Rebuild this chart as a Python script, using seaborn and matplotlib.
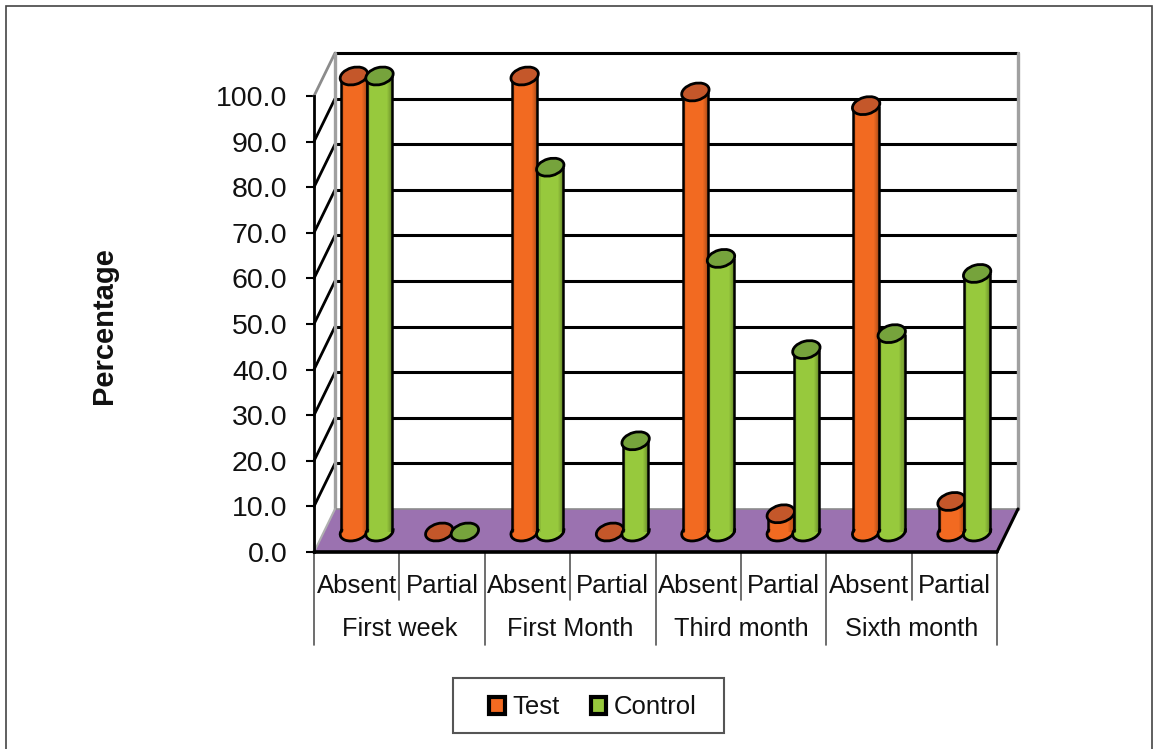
import matplotlib
matplotlib.use("Agg")
import matplotlib.pyplot as plt
import pandas as pd
import seaborn as sns
from matplotlib.patches import Arc, Ellipse, Patch, Polygon, Rectangle
from matplotlib.transforms import Affine2D, IdentityTransform

periods = ["First week", "First Month", "Third month", "Sixth month"]
statuses = ["Absent", "Partial"]
series_names = ["Test", "Control"]
test_values = [100.0, 0.0, 100.0, 0.0, 96.5, 4.0, 93.5, 6.7]
control_values = [100.0, 0.0, 80.0, 20.0, 60.0, 40.0, 43.5, 56.7]
y_ticks = [0, 10, 20, 30, 40, 50, 60, 70, 80, 90, 100]

W, H = 1157, 749
TEST_COL = "#F26A21"
CONTROL_COL = "#97C93D"
TEST_TOP = "#C4572A"
CONTROL_TOP = "#76A33C"
FLOOR = "#9B72B0"

sns.set_theme(style="white")
plt.rcParams["font.family"] = ["Liberation Sans", "DejaVu Sans"]

# 表格：每个类别一行，再按组别展开
slots = [f"{p}|{s}" for p in periods for s in statuses]
df = pd.DataFrame({
    "slot": slots * 2,
    "group": ["Test"] * 8 + ["Control"] * 8,
    "value": test_values + control_values,
})

fig = plt.figure(figsize=(W / 100, H / 100), dpi=100)
fig.patch.set_facecolor("white")
ax = fig.add_axes([314 / W, 1 - 552 / H, 683 / W, 456 / H])
ax.patch.set_alpha(0)

sns.barplot(data=df, x="slot", y="value", hue="group", hue_order=series_names,
            palette=[TEST_COL, CONTROL_COL], width=0.6, gap=0, saturation=1,
            legend=False, ax=ax)
ax.set_xlim(-0.5, 7.5)
ax.set_ylim(0, 100)
ax.set_xlabel("")
ax.set_ylabel("")

# 透视偏移（像素），后墙和柱子的位置
unit_x = 683 / 8
unit_y = 456 / 100
dx, dy = 21 / unit_x, 43 / unit_y
SHIFT_X, SHIFT_Y = 10, 20
shift = Affine2D().translate(SHIFT_X, SHIFT_Y)

# 后墙、左墙和地面
for v in y_ticks[1:]:
    diag = "#8c8c8c" if v == 100 else "black"
    ax.plot([-0.5, -0.5 + dx], [v, v + dy], color=diag, lw=2, clip_on=False, zorder=1)
    ax.plot([-0.5 + dx, 7.5 + dx], [v + dy, v + dy], color="black", lw=2.2, clip_on=False, zorder=1)
ax.plot([-0.5 + dx, -0.5 + dx], [dy, 100 + dy], color="#a0a0a0", lw=2.4, clip_on=False, zorder=1.1)
ax.plot([7.5 + dx, 7.5 + dx], [dy, 100 + dy], color="#a0a0a0", lw=2.4, clip_on=False, zorder=1.1)
ax.add_patch(Polygon([(-0.5, 0), (7.5, 0), (7.5 + dx, dy), (-0.5 + dx, dy)],
                     facecolor=FLOOR, edgecolor="none", clip_on=False, zorder=2))
ax.plot([-0.5 + dx, 7.5 + dx], [dy, dy], color="#8c8c8c", lw=1.2, clip_on=False, zorder=2.1)
ax.plot([-0.5, -0.5 + dx], [0, dy], color="#b0b0b0", lw=1.5, clip_on=False, zorder=2.1)
ax.plot([7.5, 7.5 + dx], [0, dy], color="black", lw=2.2, clip_on=False, zorder=2.1)
ax.plot([-0.5, 7.5], [0, 0], color="black", lw=2.6, clip_on=False, zorder=2.2)

# 把柱子改成圆柱：侧面 + 底部半椭圆 + 顶部椭圆
ELL_W, ELL_H, ELL_ANG = 28, 17, 15
identity = IdentityTransform()
for k, (bars, col, top) in enumerate(zip(ax.containers, [TEST_COL, CONTROL_COL], [TEST_TOP, CONTROL_TOP])):
    for i, bar in enumerate(bars):
        z = 3 + i + k * 0.5
        bar.set_transform(ax.transData + shift)
        bar.set_clip_on(False)
        bar.set_zorder(z)
        bar.set_edgecolor("none")
        h = bar.get_height()
        x0, w = bar.get_x(), bar.get_width()
        cx = x0 + w / 2
        bx, by = ax.transData.transform((cx, 0)) + (SHIFT_X, SHIFT_Y)
        tx, ty = ax.transData.transform((cx, h)) + (SHIFT_X, SHIFT_Y)
        if h > 0:
            # 底部
            ax.add_patch(Ellipse((bx, by), ELL_W, ELL_H, angle=ELL_ANG, facecolor=col, edgecolor="none",
                                 transform=identity, clip_on=False, zorder=z))
            ax.add_patch(Arc((bx, by), ELL_W, ELL_H, angle=ELL_ANG, theta1=150, theta2=360, color="black", lw=2,
                             transform=identity, clip_on=False, zorder=z + 0.1))
            # 两侧渐暗的窄条，模拟圆柱明暗
            strip = 0.012
            for n, a in enumerate([0.28, 0.16, 0.07]):
                ax.add_patch(Rectangle((x0 + n * strip, 0), strip, h, facecolor="black", alpha=a, edgecolor="none",
                                       transform=ax.transData + shift, clip_on=False, zorder=z + 0.05))
            for n, a in enumerate([0.30, 0.22, 0.15, 0.09, 0.04]):
                ax.add_patch(Rectangle((x0 + w - (n + 1) * strip, 0), strip, h, facecolor="black", alpha=a,
                                       edgecolor="none", transform=ax.transData + shift, clip_on=False,
                                       zorder=z + 0.05))
            for sx in [x0, x0 + w]:
                ax.plot([sx, sx], [0, h], color="black", lw=1.8, transform=ax.transData + shift,
                        clip_on=False, zorder=z + 0.1, solid_capstyle="butt")
        ax.add_patch(Ellipse((tx, ty), ELL_W, ELL_H, angle=ELL_ANG, facecolor=top, edgecolor="black", lw=2,
                             transform=identity, clip_on=False, zorder=z + 0.2))

# y 轴
sns.despine(ax=ax, left=False, bottom=True, top=True, right=True)
ax.spines["left"].set_color("black")
ax.spines["left"].set_linewidth(2)
ax.set_yticks(y_ticks)
ax.set_yticklabels([f"{v:.1f}" for v in y_ticks], fontsize=20.5, color="#111111")
ax.tick_params(axis="y", left=True, length=6, width=1.5, color="black", pad=13)

# 多级 x 轴标签
ax.set_xticks(range(8))
ax.set_xticklabels(statuses * 4, fontsize=18.5, color="#111111")
ax.tick_params(axis="x", bottom=False, pad=10)
short_y = -48 / unit_y
long_y = -93 / unit_y
for i in range(9):
    ax.plot([i - 0.5, i - 0.5], [0, long_y if i % 2 == 0 else short_y], color="#555555", lw=1.2, clip_on=False)
for i, p in enumerate(periods):
    ax.text(i * 2 + 0.5, -77 / unit_y, p, ha="center", va="center", fontsize=18.2, color="#111111")

fig.text(104 / W, 1 - 326 / H, "Percentage", rotation=90, ha="center", va="center",
         fontsize=21, fontweight="bold", color="#111111")

# 图例：边框单独画，内容居中偏左
fig.add_artist(Rectangle((453 / W, 1 - 733 / H), 271 / W, 55 / H, transform=fig.transFigure,
                         facecolor="white", edgecolor="#555555", lw=1.5))
handles = [Patch(facecolor=TEST_COL, edgecolor="black", linewidth=3),
           Patch(facecolor=CONTROL_COL, edgecolor="black", linewidth=3)]
fig.legend(handles, series_names, loc="center", bbox_to_anchor=(593 / W, 1 - 707.5 / H),
           ncol=2, fontsize=18.5, frameon=False, handlelength=0.6, handleheight=0.6,
           handletextpad=0.3, columnspacing=1.2, labelcolor="#111111")

# 外框
fig.add_artist(Rectangle((6 / W, -0.01), 1146 / W, 1 - 6 / H + 0.01, transform=fig.transFigure,
                         facecolor="none", edgecolor="#444444", lw=1.2))

fig.savefig("out.png", dpi=100)
plt.close(fig)
